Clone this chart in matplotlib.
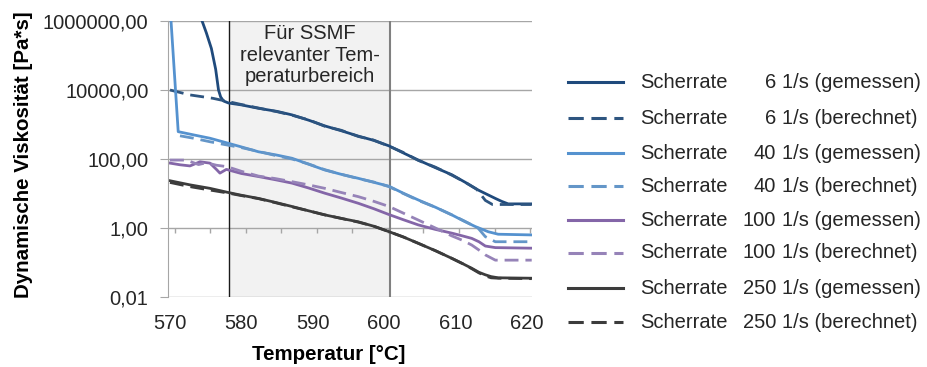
import numpy as np
import matplotlib.pyplot as plt
from matplotlib.lines import Line2D
from matplotlib.ticker import NullLocator
from matplotlib.transforms import blended_transform_factory

plt.rcParams['font.family'] = ['Liberation Sans', 'DejaVu Sans']
plt.rcParams['font.size'] = 14.5

# Werte (Temperatur in °C, Viskosität in Pa*s)
t_6_mess = [574.3, 575.1, 575.8, 576.4, 576.8, 577.1, 577.5, 578.2, 580.0, 582.4, 585.0,
            587.1, 589.5, 591.7, 594.0, 596.4, 598.5, 600.7, 602.7, 604.8, 607.2, 609.5,
            611.4, 613.2, 614.5, 615.6, 616.5, 617.4, 620.7]
eta_6_mess = [1.3e6, 4.5e5, 1.6e5, 4.0e4, 1.0e4, 6300, 4800, 4200, 3700, 2950, 2400,
              1900, 1320, 910, 660, 460, 350, 240, 150, 93, 56, 35,
              21, 12.6, 9.3, 7.2, 5.9, 5.0, 5.0]

t_6_ber = [570.0, 572.8, 576.0, 578.2, 580.0, 582.4, 585.0, 587.1, 589.5, 591.7, 594.0,
           596.4, 598.5, 600.7, 602.7, 604.8, 607.2, 609.5, 611.4, 613.0, 614.2, 615.2, 620.7]
eta_6_ber = [10000, 7200, 5750, 4600, 3800, 3000, 2350, 1860, 1350, 890, 680,
             450, 355, 235, 155, 91, 58, 34, 21, 13.2, 6.3, 4.8, 4.8]

t_40_mess = [570.05, 571.15, 573.3, 575.6, 577.8, 580.0, 582.4, 584.8, 587.1, 589.4, 591.7,
             594.0, 596.4, 598.6, 600.7, 602.7, 604.8, 607.2, 609.5, 611.2, 612.8, 614.6,
             616.0, 620.7]
eta_40_mess = [2.0e6, 620, 500, 400, 300, 224, 162, 132, 105, 71, 48,
               36, 27.5, 21, 16.2, 10.2, 6.5, 4.0, 2.4, 1.58, 1.10, 0.78,
               0.66, 0.63]

t_40_ber = [571.4, 573.3, 575.6, 577.9, 580.0, 582.4, 584.8, 587.1, 589.4, 591.7, 594.0,
            596.4, 598.6, 600.7, 602.7, 604.8, 607.2, 609.5, 611.2, 613.2, 614.2, 615.6, 620.7]
eta_40_ber = [470, 400, 316, 257, 214, 166, 126, 100, 72, 49, 36,
              27, 21.4, 15.8, 10, 6.3, 4.0, 2.4, 1.62, 0.98, 0.56, 0.40, 0.40]

t_100_mess = [570.0, 571.4, 572.8, 574.2, 575.6, 576.5, 577.0, 577.9, 580.0, 582.4, 584.8,
              587.1, 589.4, 591.7, 594.0, 596.4, 598.6, 600.7, 602.7, 604.8, 607.2, 609.5,
              611.0, 612.3, 613.3, 614.2, 615.6, 620.7]
eta_100_mess = [76, 68, 63, 83, 76, 50, 39, 50, 38, 31, 25,
                20, 14.5, 10.2, 7.4, 5.2, 3.6, 2.45, 1.74, 1.23, 0.91, 0.71,
                0.59, 0.50, 0.40, 0.30, 0.27, 0.26]

t_100_ber = [570.0, 572.3, 574.0, 575.1, 576.5, 578.0, 580.0, 582.4, 584.8, 587.1, 589.4,
             591.7, 594.0, 596.4, 598.6, 600.7, 602.7, 604.8, 607.2, 609.5, 611.0, 612.3,
             613.3, 614.2, 615.6, 620.7]
eta_100_ber = [93, 93, 69, 78, 66, 60, 44, 32, 27, 22, 17.8,
               14.1, 10.7, 8.1, 5.9, 4.2, 2.7, 1.70, 1.00, 0.59, 0.44, 0.32,
               0.23, 0.166, 0.117, 0.117]

t_250 = [570.0, 572.8, 575.6, 577.9, 580.0, 582.4, 584.8, 587.1, 589.4, 591.7, 594.0,
         596.4, 598.6, 600.5, 602.7, 604.8, 607.2, 609.5, 611.0, 612.3, 613.3, 614.2,
         615.0, 616.0, 620.7]
eta_250_mess = [23.4, 17.8, 14.1, 11.0, 8.9, 7.2, 5.5, 4.2, 3.16, 2.4, 1.9,
                1.51, 1.12, 0.81, 0.55, 0.36, 0.22, 0.132, 0.093, 0.068, 0.052, 0.044,
                0.039, 0.036, 0.035]
eta_250_ber = [20.9, 15.8, 12.6, 10.5, 8.7, 7.1, 5.4, 4.1, 3.16, 2.4, 1.9,
               1.48, 1.12, 0.81, 0.55, 0.36, 0.22, 0.132, 0.093, 0.066, 0.050, 0.041,
               0.036, 0.035, 0.034]

x_ticks = [570, 580, 590, 600, 610, 620]
y_ticks = [0.01, 1, 100, 10000, 1000000]
bereich = (578.3, 600.8)  # SSMF-relevanter Bereich

raten = ['6', '6', '40', '40', '100', '100', '250', '250']
art = ['gemessen', 'berechnet'] * 4

navy = '#1f4a7c'
blau = '#5592cf'
lila = '#8466a8'
grau = '#3c3c3c'
dash = (0, (5, 2.5))

serien = [
    (t_6_mess, eta_6_mess, navy, '-'),
    (t_6_ber, eta_6_ber, '#2e5580', dash),
    (t_40_mess, eta_40_mess, blau, '-'),
    (t_40_ber, eta_40_ber, '#6496c8', dash),
    (t_100_mess, eta_100_mess, lila, '-'),
    (t_100_ber, eta_100_ber, '#9683b8', dash),
    (t_250, eta_250_mess, grau, '-'),
    (t_250, eta_250_ber, grau, dash),
]

W, H = 927, 367
fig = plt.figure(figsize=(W / 100, H / 100), dpi=100)
ax = fig.add_axes([168 / W, 1 - 297 / H, 364 / W, 276 / H])

ax.set_yscale('log')
ax.set_ylim(0.01, 1e6)
ax.set_xlim(569.72, 620.74)

ax.set_yticks(y_ticks)
ax.set_yticklabels([f'{v:.2f}'.replace('.', ',') for v in y_ticks])
ax.yaxis.set_minor_locator(NullLocator())
ax.set_xticks(x_ticks)
ax.set_xticklabels([str(v) for v in x_ticks])
ax.tick_params(axis='x', length=0, pad=12, labelcolor='#262626')
ax.tick_params(axis='y', length=6, color='#a6a6a6', pad=8, labelcolor='#262626')

for s in ['top', 'right', 'bottom']:
    ax.spines[s].set_visible(False)
ax.spines['left'].set_color('#a6a6a6')
ax.grid(axis='y', color='#a6a6a6', lw=1.0)
ax.grid(axis='x', visible=False)
ax.set_axisbelow(True)

# grauer Bereich
ax.axvspan(bereich[0], bereich[1], fc='#f2f2f2', ec='none', zorder=0.3)
ax.axvline(bereich[0], color='#1a1a1a', lw=1.0, zorder=0.6)
ax.axvline(bereich[1], color='#808080', lw=1.5, zorder=0.6)

# kleine Striche an der Achse bei 1,00
tick_pos = 570.7 + 4.976 * np.arange(11)
ax.vlines(tick_pos, 0.72, 1, colors='#a6a6a6', lw=1.0, zorder=0.6)

for t, eta, col, ls in serien:
    ax.plot(t, eta, color=col, ls=ls, lw=2.0, zorder=2)

trans = blended_transform_factory(ax.transData, ax.transAxes)
ax.text(sum(bereich) / 2, 0.988, 'Für SSMF\nrelevanter Tem-\nperaturbereich',
        transform=trans, ha='center', va='top', linespacing=1.15, color='#262626')

fig.text(24 / W, 1 - 155 / H, 'Dynamische Viskosität [Pa*s]', rotation=90,
         ha='center', va='center', fontweight='bold', fontsize=14.8)
fig.text(329 / W, 1 - 355 / H, 'Temperatur [°C]', ha='center', va='center',
         fontweight='bold', fontsize=14.8)

# Legende
zeilen = [82, 118, 153, 186, 220, 253, 288, 322]
for i, (t, eta, col, ls) in enumerate(serien):
    y = 1 - zeilen[i] / H
    fig.add_artist(Line2D([568 / W, 623 / W], [y, y], color=col, ls=ls, lw=2.2))
    fig.text(640 / W, y, 'Scherrate', va='center', color='#262626')
    fig.text(776 / W, y, raten[i], ha='right', va='center', color='#262626')
    fig.text(782 / W, y, '1/s (' + art[i] + ')', va='center', color='#262626')

fig.savefig('out.png', dpi=100)
